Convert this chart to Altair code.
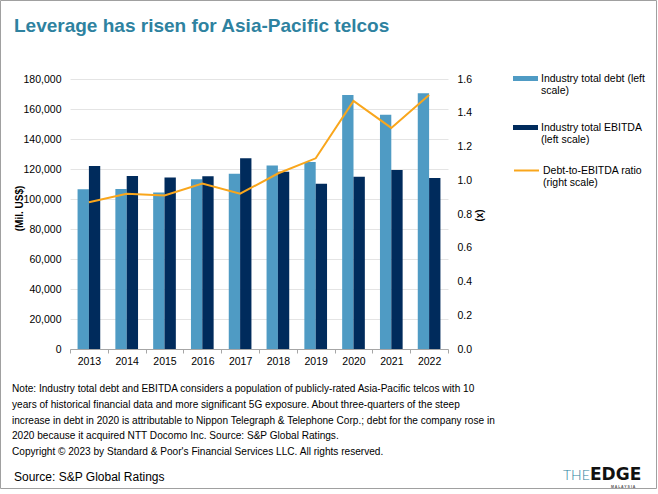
import altair as alt
import pandas as pd

# ---------------- data ----------------
years = ["2013", "2014", "2015", "2016", "2017", "2018", "2019", "2020", "2021", "2022"]
debt = [106500, 106700, 104400, 113100, 116900, 122400, 124700, 169300, 156200, 170500]
ebitda = [122000, 115300, 114400, 115100, 127100, 118200, 110200, 114900, 119300, 114000]
ratio = [0.87, 0.92, 0.91, 0.98, 0.92, 1.04, 1.13, 1.47, 1.31, 1.505]

s_debt = "Industry total debt"
s_ebitda = "Industry total EBITDA"
s_ratio = "Debt-to-EBITDA ratio"
legend_lines = {
    s_debt: ["Industry total debt (left", "scale)"],
    s_ebitda: ["Industry total EBITDA", "(left scale)"],
    s_ratio: ["Debt-to-EBITDA ratio", "(right scale)"],
}
left_ticks = [0, 20000, 40000, 60000, 80000, 100000, 120000, 140000, 160000, 180000]
right_ticks = [0.0, 0.2, 0.4, 0.6, 0.8, 1.0, 1.2, 1.4, 1.6]

title_text = "Leverage has risen for Asia-Pacific telcos"
note_lines = [
    "Note: Industry total debt and EBITDA considers a population of publicly-rated Asia-Pacific telcos with 10",
    "years of historical financial data and more significant 5G exposure. About three-quarters of the steep",
    "increase in debt in 2020 is attributable to Nippon Telegraph & Telephone Corp.; debt for the company rose in",
    "2020 because it acquired NTT Docomo Inc. Source: S&P Global Ratings.",
    "Copyright \u00a9 2023 by Standard & Poor's Financial Services LLC. All rights reserved.",
]
source_text = "Source: S&P Global Ratings"

# ---------------- style ----------------
LIGHT = "#4f9bc4"
DARK = "#002b5c"
ORANGE = "#f9a61c"
TEAL = "#2e82a0"
GRID = "#e4e4e4"
AXIS = "#a6a6a6"
FONT = "Liberation Sans"

bar_df = pd.DataFrame({
    "year": years * 2,
    "series": [s_debt] * len(years) + [s_ebitda] * len(years),
    "value": debt + ebitda,
})
line_df = pd.DataFrame({"year": years, "series": [s_ratio] * len(years), "ratio": ratio})


def label_expr(names):
    parts = []
    for n in names[:-1]:
        parts.append("datum.label == '%s' ? %s : " % (n, str(legend_lines[n])))
    parts.append(str(legend_lines[names[-1]]))
    return "".join(parts)


x_enc = alt.X(
    "year:N",
    title=None,
    scale=alt.Scale(paddingInner=0, paddingOuter=0),
    axis=alt.Axis(
        labelAngle=0, domainColor=AXIS, tickColor=AXIS, tickBand="extent",
        tickSize=4, labelPadding=3, labelFontSize=10.5, labelColor="#000",
        labelFont=FONT, grid=False,
    ),
)

bars = alt.Chart(bar_df).mark_bar().encode(
    x=x_enc,
    xOffset=alt.XOffset("series:N", sort=[s_debt, s_ebitda],
                        scale=alt.Scale(paddingInner=0, paddingOuter=0.667)),
    y=alt.Y(
        "value:Q",
        title="(Mil. US$)",
        scale=alt.Scale(domain=[0, 180000], nice=False),
        axis=alt.Axis(
            values=left_ticks, format=",.0f", grid=True, gridColor=GRID, domain=False,
            ticks=False, labelPadding=9, labelFontSize=10.5, labelColor="#000",
            labelFont=FONT, titleFont=FONT, titleFontSize=10, titleFontWeight="bold",
            titleColor="#000", titleAngle=-90, titleX=-51, titleY=129,
            titleBaseline="middle", titleAlign="center",
        ),
    ),
    color=alt.Color(
        "series:N",
        scale=alt.Scale(domain=[s_debt, s_ebitda], range=[LIGHT, DARK]),
        legend=alt.Legend(
            title=None, orient="none", legendX=443, legendY=-13, padding=0,
            symbolType="M-1,-0.2H1V0.2H-1Z", symbolSize=625, symbolStrokeWidth=0,
            symbolOpacity=1, labelExpr=label_expr([s_debt, s_ebitda]),
            labelFontSize=10.5, labelFont=FONT, labelColor="#000", labelOffset=3,
            rowPadding=18, labelLimit=200,
        ),
    ),
)

line = alt.Chart(line_df).mark_line(strokeWidth=2).encode(
    x=alt.X("year:N"),
    y=alt.Y(
        "ratio:Q",
        title="(x)",
        scale=alt.Scale(domain=[0, 1.6], nice=False),
        axis=alt.Axis(
            orient="right", values=right_ticks, format=".1f", grid=False, domain=False,
            ticks=False, labelPadding=9, labelFontSize=10.5, labelColor="#000",
            labelFont=FONT, titleFont=FONT, titleFontSize=10, titleFontWeight="bold",
            titleColor="#000", titleAngle=-90, titleX=31, titleY=136,
            titleBaseline="middle", titleAlign="center",
        ),
    ),
    stroke=alt.Stroke(
        "series:N",
        scale=alt.Scale(domain=[s_ratio], range=[ORANGE]),
        legend=alt.Legend(
            title=None, orient="none", legendX=443, legendY=78, padding=0,
            symbolType="stroke", symbolSize=625, symbolStrokeWidth=2,
            labelExpr=label_expr([s_ratio]), labelFontSize=10.5, labelFont=FONT,
            labelColor="#000", labelOffset=3, labelLimit=200,
        ),
    ),
)

one = pd.DataFrame({"k": [0]})

frame = alt.Chart(one).mark_rect(fill=None, stroke="#a0a0a0", strokeWidth=1).encode(
    x=alt.value(-69.5), x2=alt.value(586.5), y=alt.value(-78.5), y2=alt.value(409.5)
)

title = alt.Chart(one).mark_text(
    align="left", baseline="alphabetic", font=FONT, fontSize=19, fontWeight="bold", color=TEAL
).encode(x=alt.value(-56), y=alt.value(-47), text=alt.value(title_text))

notes = alt.Chart(one).mark_text(
    align="left", baseline="alphabetic", font=FONT, fontSize=10.1, color="#000", lineHeight=15.8
).encode(x=alt.value(-58), y=alt.value(313), text=alt.value(note_lines))

source = alt.Chart(one).mark_text(
    align="left", baseline="alphabetic", font=FONT, fontSize=12, color="#000"
).encode(x=alt.value(-56), y=alt.value(402), text=alt.value(source_text))

logo_the = alt.Chart(one).mark_text(
    align="left", baseline="alphabetic", font="Lato", fontSize=14, fontWeight=300, color=TEAL
).encode(x=alt.value(493), y=alt.value(401), text=alt.value("THE"))

logo_edge = alt.Chart(one).mark_text(
    align="left", baseline="alphabetic", font="DejaVu Sans", fontSize=17, fontWeight="bold", color="#111"
).encode(x=alt.value(520), y=alt.value(401), text=alt.value("EDGE"))

logo_sub = alt.Chart(one).mark_text(
    align="left", baseline="alphabetic", font=FONT, fontSize=3.5, fontWeight="bold", color="#555"
).encode(x=alt.value(541), y=alt.value(408.5), text=alt.value("M  A  L  A  Y  S  I  A"))

chart = (
    alt.layer(bars, line, frame, title, notes, source, logo_the, logo_edge, logo_sub)
    .resolve_scale(y="independent", color="independent", stroke="independent")
    .properties(
        width=378, height=270,
        autosize=alt.AutoSizeParams(type="none"),
        padding={"left": 70, "top": 79, "right": 210, "bottom": 145},
        background="white",
    )
    .configure_view(stroke=None)
)

chart.save("out.html", embed_options={"renderer": "svg", "actions": False})
